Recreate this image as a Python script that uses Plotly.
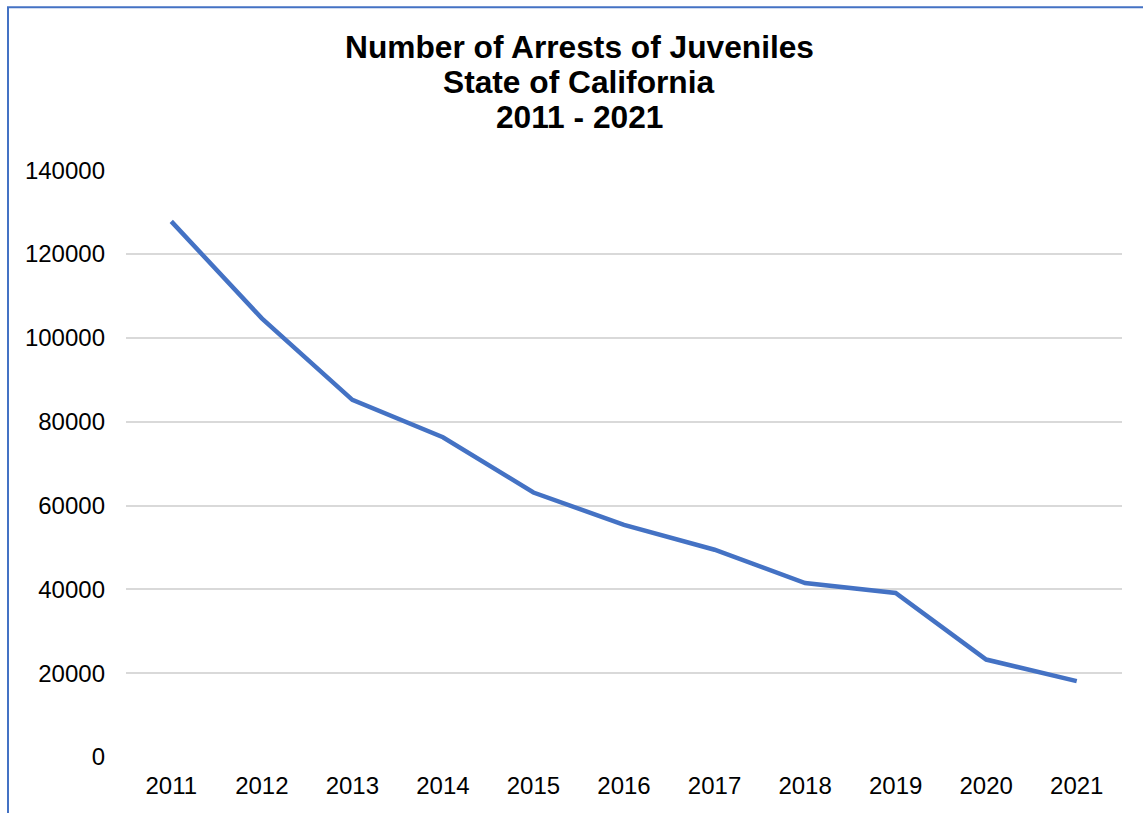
import plotly.graph_objects as go

years = ["2011", "2012", "2013", "2014", "2015", "2016", "2017", "2018", "2019", "2020", "2021"]
arrests = [127800, 104650, 85200, 76300, 63100, 55400, 49450, 41500, 39150, 23250, 18100]
y_ticks = [0, 20000, 40000, 60000, 80000, 100000, 120000, 140000]

title_lines = ["Number of Arrests of Juveniles", "State of California", "2011 - 2021"]

# screen geometry; the page body margin is removed so the figure starts at 0,0
OFF = 0
PL, PR, PT, PB = 126, 1122, 170, 757.5


def px_x(s):
    return (s - PL) / (PR - PL)


def px_y(s):
    return (PB - s) / (PB - PT)


fig = go.Figure()
fig.add_trace(go.Scatter(
    x=years, y=arrests, mode="lines",
    line=dict(color="#4472C4", width=4.5),
    hoverinfo="x+y", showlegend=False,
))

title_y = [47, 82, 117]
annotations = [
    dict(text=t, xref="paper", yref="paper", x=px_x(579), y=px_y(yy),
         xanchor="center", yanchor="middle", showarrow=False,
         font=dict(family="Liberation Sans, Arial, sans-serif", size=31.7, color="#000000", weight="bold"))
    for t, yy in zip(title_lines, title_y)
]

fig.update_layout(
    width=1143, height=813,
    paper_bgcolor="white", plot_bgcolor="white",
    margin=dict(l=PL - OFF, r=1143 + OFF - PR, t=PT - OFF, b=813 + OFF - PB, pad=0),
    font=dict(family="Liberation Sans, Arial, sans-serif", color="#000000", size=24),
    xaxis=dict(
        type="category", range=[-0.5, 10.5],
        showgrid=False, zeroline=False, showline=False,
        ticks="", ticklabelstandoff=12,
        tickfont=dict(size=24),
    ),
    yaxis=dict(
        range=[0, 140000 * 1.0004], tickvals=y_ticks, ticktext=[str(v) for v in y_ticks],
        showgrid=True, gridcolor="#D9D9D9", gridwidth=1.5,
        zeroline=False, showline=False, ticks="", ticklabelstandoff=20,
        tickfont=dict(size=24),
    ),
    annotations=annotations,
    shapes=[dict(
        type="rect", xref="paper", yref="paper",
        x0=px_x(8), x1=1.5,
        y0=-0.5, y1=px_y(7),
        line=dict(color="#4472C4", width=2), fillcolor="rgba(0,0,0,0)", layer="below",
    )],
)

fig.write_html(
    "out.html",
    config={"displayModeBar": False},
    post_script="document.body.style.margin='0';",
)
